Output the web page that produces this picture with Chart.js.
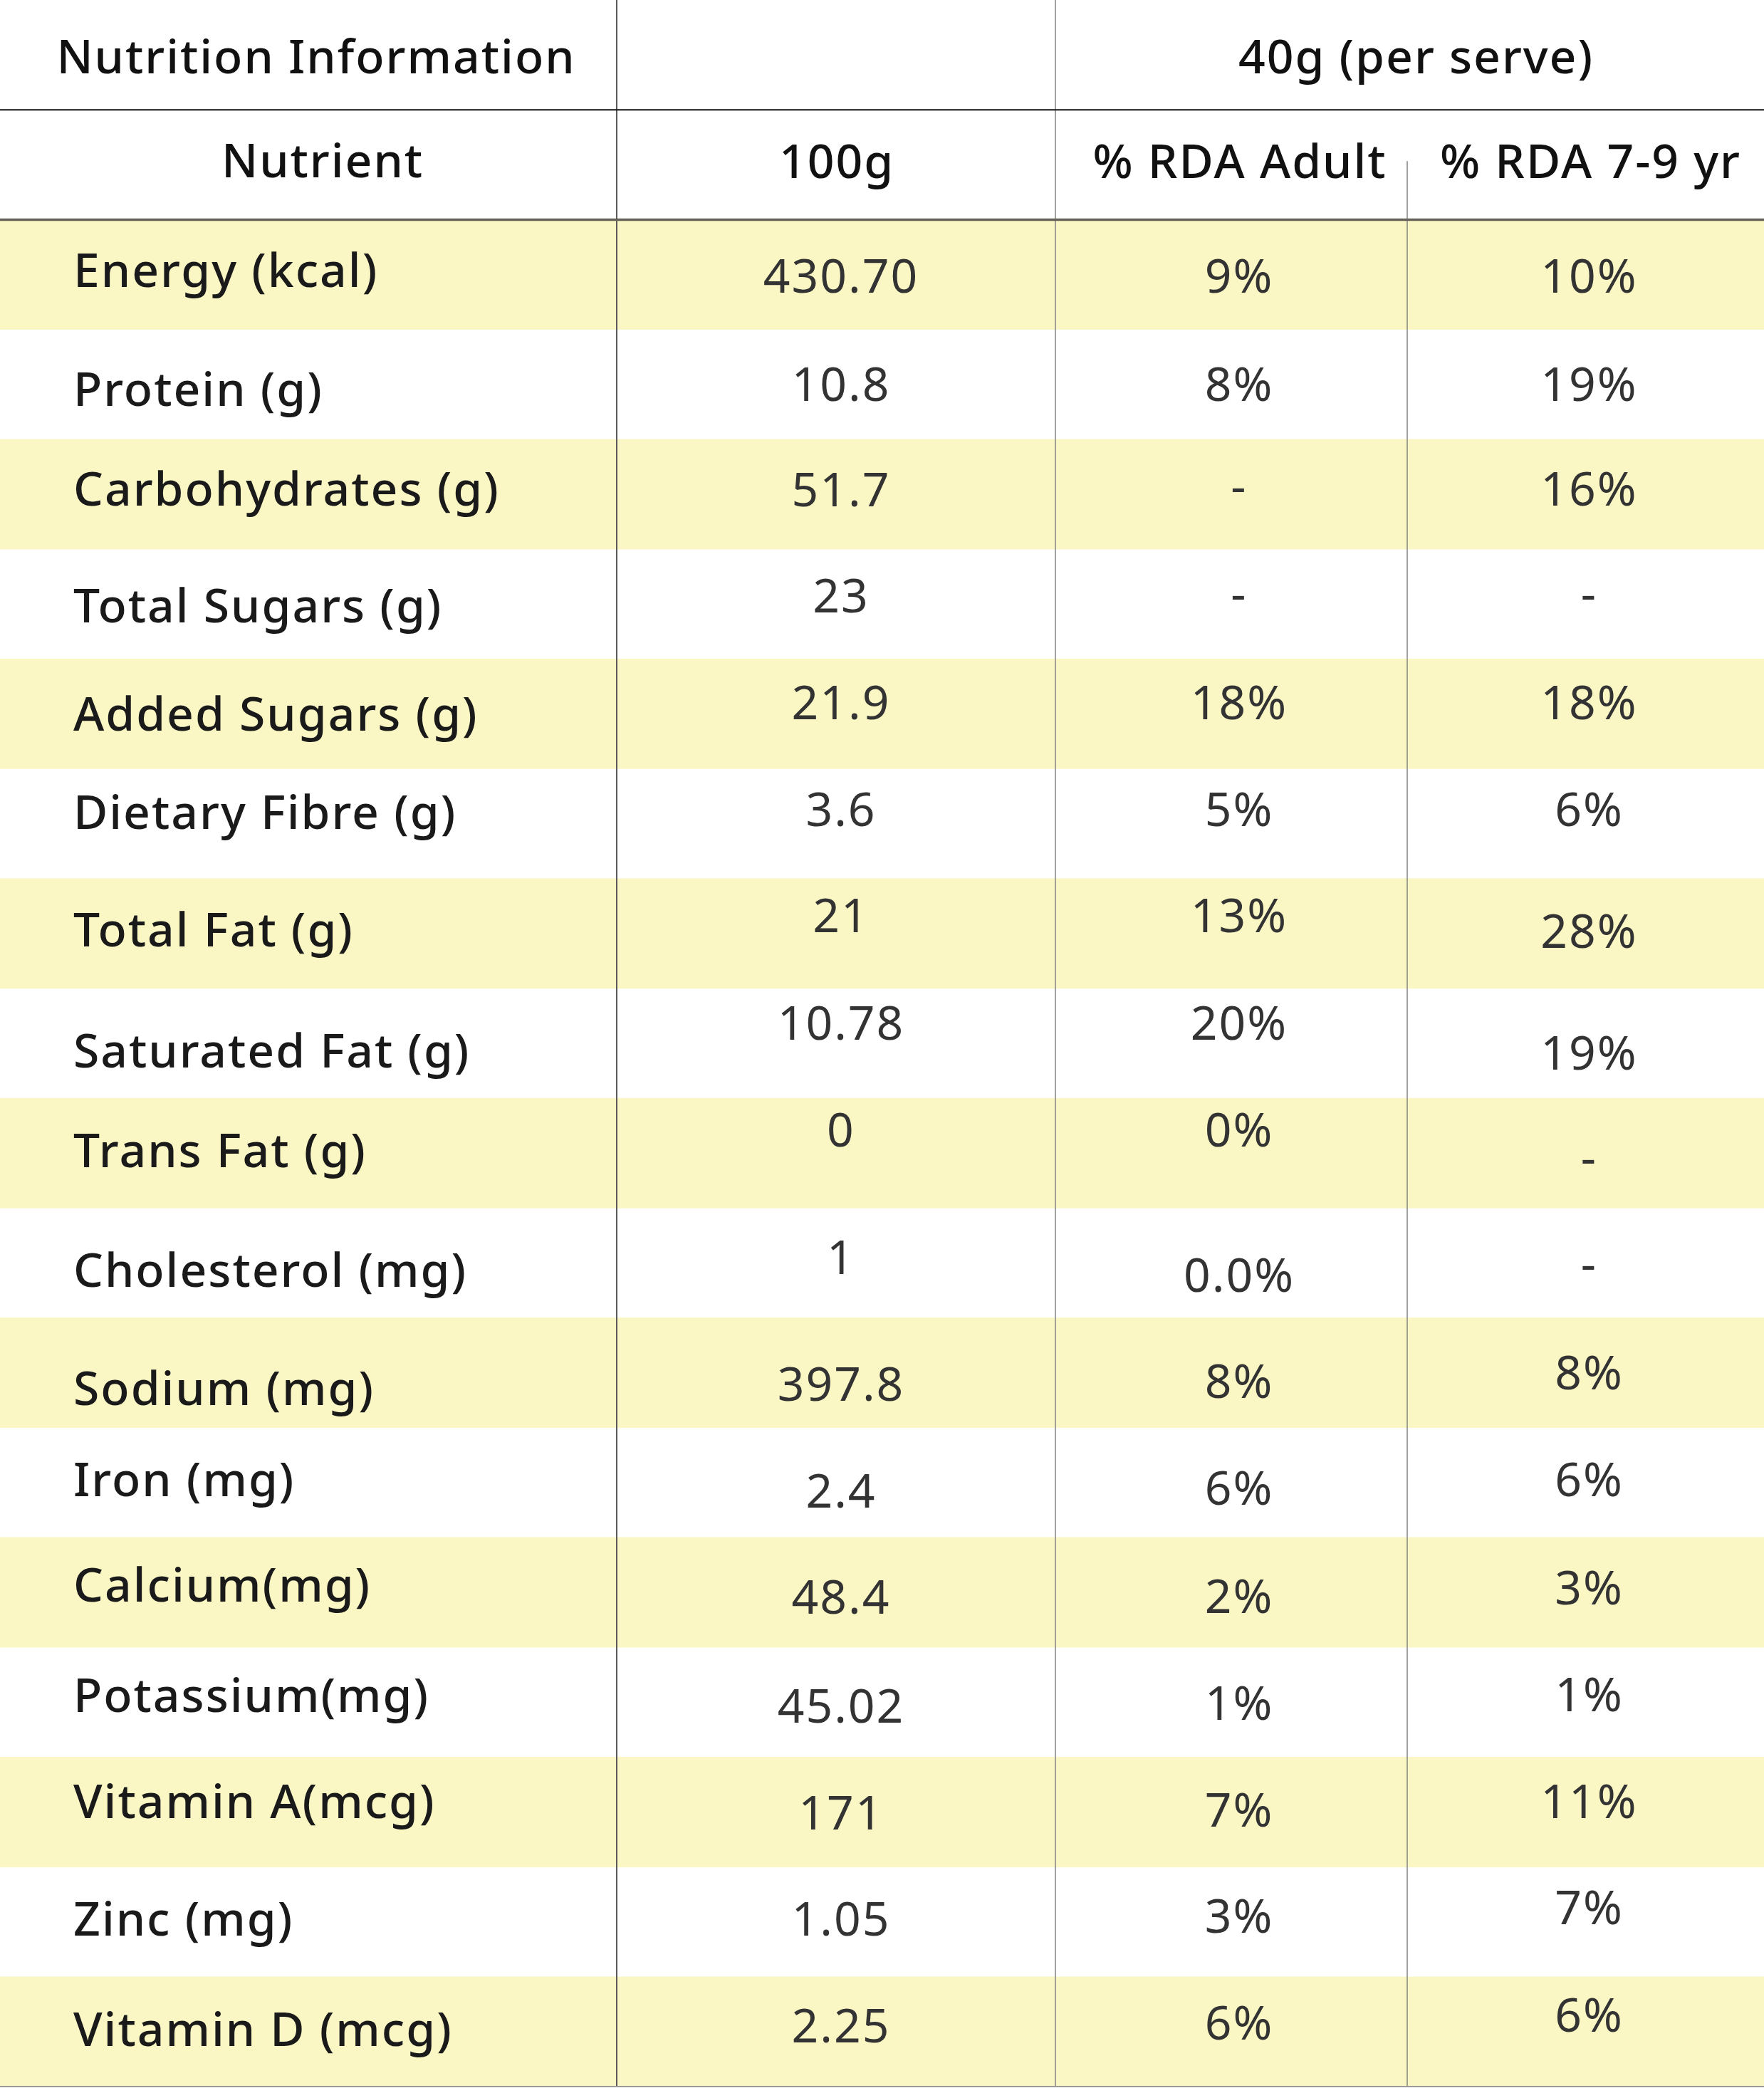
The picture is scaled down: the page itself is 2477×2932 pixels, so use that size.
<!DOCTYPE html>
<html>
<head>
<meta charset="utf-8">
<script src="https://cdn.jsdelivr.net/npm/chart.js@4.4.1/dist/chart.umd.min.js"></script>
<style>
  html, body { margin: 0; padding: 0; background: #ffffff; }
  #wrap { width: 2477px; height: 2932px; }
  canvas { display: block; }
</style>
</head>
<body>
<div id="wrap"><canvas id="c" width="2477" height="2932" style="width:2477px;height:2932px"></canvas></div>
<script>
// ---------------- DATA ----------------
const tableTitle = 'Nutrition Information';
const serveTitle = '40g (per serve)';
const columnHeaders = ['Nutrient', '100g', '% RDA Adult', '% RDA 7-9 yr'];
const nutrients = [
  'Energy (kcal)', 'Protein (g)', 'Carbohydrates (g)', 'Total Sugars (g)',
  'Added Sugars (g)', 'Dietary Fibre (g)', 'Total Fat (g)', 'Saturated Fat (g)',
  'Trans Fat (g)', 'Cholesterol (mg)', 'Sodium (mg)', 'Iron (mg)',
  'Calcium(mg)', 'Potassium(mg)', 'Vitamin A(mcg)', 'Zinc (mg)', 'Vitamin D (mcg)'
];
const per100g = ['430.70', '10.8', '51.7', '23', '21.9', '3.6', '21', '10.78',
  '0', '1', '397.8', '2.4', '48.4', '45.02', '171', '1.05', '2.25'];
const rdaAdult = ['9%', '8%', '-', '-', '18%', '5%', '13%', '20%',
  '0%', '0.0%', '8%', '6%', '2%', '1%', '7%', '3%', '6%'];
const rdaKids = ['10%', '19%', '16%', '-', '18%', '6%', '28%', '19%',
  '-', '-', '8%', '6%', '3%', '1%', '11%', '7%', '6%'];

// ---------------- LAYOUT / STYLE ----------------
const TABLE_W = 2477;
const colEdges = [0, 866, 1482, 1976, 2477];
const colShift = [0, 6, 10, 4];
const nameX = 103;
// per-cell vertical nudges (px) as in the original artwork
const dyName = [-6, 7, -7, 2, 0, -16, -5, 10, -4, 10, 22, -4, -11, -10, -15, -4, -3];
const dyC1 = [2, 0, -6, -12, -16, -20, -25, -29, -33, -8, 16, 12, 6, 5, 1, -4, -8];
const dyC2 = [2, 0, -11, -15, -16, -20, -25, -29, -33, 17, 12, 8, 5, 1, -3, -8, -12];
const dyC3 = [2, 0, -7, -15, -16, -20, -3, 13, 6, 1, 0, -4, -7, -11, -15, -20, -23];
const YELLOW = '#FAF7C4';
const FONT_FAMILY = '"Noto Sans", "Open Sans", sans-serif';
const FS = 66;
const SPACING = 2;

const rowLabels = [tableTitle, columnHeaders[0]].concat(nutrients);

function drawCentered(ctx, str, x, cy, align, weight, color) {
  ctx.font = weight + ' ' + FS + 'px ' + FONT_FAMILY;
  if ('letterSpacing' in ctx) ctx.letterSpacing = '0px';
  const cap = ctx.measureText('H').actualBoundingBoxAscent;
  if ('letterSpacing' in ctx) ctx.letterSpacing = SPACING + 'px';
  ctx.textAlign = align;
  ctx.textBaseline = 'alphabetic';
  ctx.fillStyle = color;
  const shift = align === 'center' ? SPACING / 2 : 0;
  ctx.fillText(str, x + shift, cy + cap / 2);
}

const tablePlugin = {
  id: 'tablePlugin',
  afterDatasetsDraw(chart) {
    const ctx = chart.ctx;
    const xs = chart.scales.x, ys = chart.scales.y;
    const rowH = ys.getPixelForValue(1) - ys.getPixelForValue(0);
    const rowTop = i => ys.getPixelForValue(i) - rowH / 2;
    const rowMid = i => ys.getPixelForValue(i);
    const cx = c => (xs.getPixelForValue(colEdges[c]) + xs.getPixelForValue(colEdges[c + 1])) / 2 + colShift[c];
    const nRows = rowLabels.length;
    const bottom = rowTop(nRows - 1) + rowH;

    ctx.save();
    // vertical column lines
    ctx.lineWidth = 2;
    ctx.strokeStyle = '#5a5a5a';
    ctx.beginPath();
    ctx.moveTo(xs.getPixelForValue(colEdges[1]), 0);
    ctx.lineTo(xs.getPixelForValue(colEdges[1]), bottom);
    ctx.stroke();
    ctx.strokeStyle = '#8a8a8a';
    ctx.lineWidth = 1.6;
    ctx.beginPath();
    ctx.moveTo(xs.getPixelForValue(colEdges[2]), 0);
    ctx.lineTo(xs.getPixelForValue(colEdges[2]), bottom);
    ctx.stroke();
    ctx.beginPath();
    ctx.moveTo(xs.getPixelForValue(colEdges[3]), rowMid(1) - 5);
    ctx.lineTo(xs.getPixelForValue(colEdges[3]), bottom);
    ctx.stroke();

    // horizontal header lines
    ctx.strokeStyle = '#111111';
    ctx.lineWidth = 2;
    ctx.beginPath();
    ctx.moveTo(0, rowTop(1));
    ctx.lineTo(TABLE_W, rowTop(1));
    ctx.stroke();
    ctx.strokeStyle = '#66645a';
    ctx.lineWidth = 3.5;
    ctx.beginPath();
    ctx.moveTo(0, rowTop(2));
    ctx.lineTo(TABLE_W, rowTop(2));
    ctx.stroke();
    ctx.strokeStyle = '#9a9a9a';
    ctx.lineWidth = 2;
    ctx.beginPath();
    ctx.moveTo(0, bottom);
    ctx.lineTo(TABLE_W, bottom);
    ctx.stroke();

    // header texts
    drawCentered(ctx, tableTitle, cx(0) + 10, rowMid(0) + 2, 'center', 500, '#111111');
    const serveX = (xs.getPixelForValue(colEdges[2]) + xs.getPixelForValue(colEdges[4])) / 2 + 8;
    drawCentered(ctx, serveTitle, serveX, rowMid(0) + 2, 'center', 500, '#111111');
    drawCentered(ctx, columnHeaders[0], cx(0) + 19, rowMid(1) - 6, 'center', 500, '#111111');
    drawCentered(ctx, columnHeaders[1], cx(1) - 6, rowMid(1) - 5, 'center', 500, '#111111');
    drawCentered(ctx, columnHeaders[2], cx(2) + 1, rowMid(1) - 5, 'center', 500, '#111111');
    drawCentered(ctx, columnHeaders[3], cx(3) + 2, rowMid(1) - 5, 'center', 500, '#111111');

    // body
    for (let i = 0; i < nutrients.length; i++) {
      const r = i + 2;
      const m = rowMid(r);
      drawCentered(ctx, nutrients[i], nameX, m + dyName[i], 'left', 500, '#1a1a1a');
      drawCentered(ctx, per100g[i], cx(1), m + dyC1[i], 'center', 400, '#333333');
      drawCentered(ctx, rdaAdult[i], cx(2), m + dyC2[i], 'center', 400, '#333333');
      drawCentered(ctx, rdaKids[i], cx(3), m + dyC3[i], 'center', 400, '#333333');
    }
    ctx.restore();
  }
};

function build() {
  const canvas = document.getElementById('c');
  new Chart(canvas.getContext('2d'), {
    type: 'bar',
    data: {
      labels: rowLabels,
      datasets: [{
        label: 'rows',
        data: rowLabels.map((_, i) => (i >= 2 && (i - 2) % 2 === 0) ? [0, TABLE_W] : null),
        backgroundColor: YELLOW,
        borderWidth: 0,
        barPercentage: 1,
        categoryPercentage: 1
      }]
    },
    options: {
      indexAxis: 'y',
      responsive: false,
      maintainAspectRatio: false,
      animation: false,
      devicePixelRatio: 1,
      layout: { padding: { top: 0, left: 0, right: 0, bottom: 2 } },
      plugins: { legend: { display: false }, tooltip: { enabled: false }, title: { display: false } },
      scales: {
        x: { type: 'linear', min: 0, max: TABLE_W, display: false },
        y: { type: 'category', display: false, offset: true, grid: { display: false } }
      }
    },
    plugins: [tablePlugin]
  });
}

const fontLoads = [
  document.fonts.load('400 66px "Noto Sans"'),
  document.fonts.load('500 66px "Noto Sans"')
];
Promise.all(fontLoads).then(build, build);
</script>
</body>
</html>
